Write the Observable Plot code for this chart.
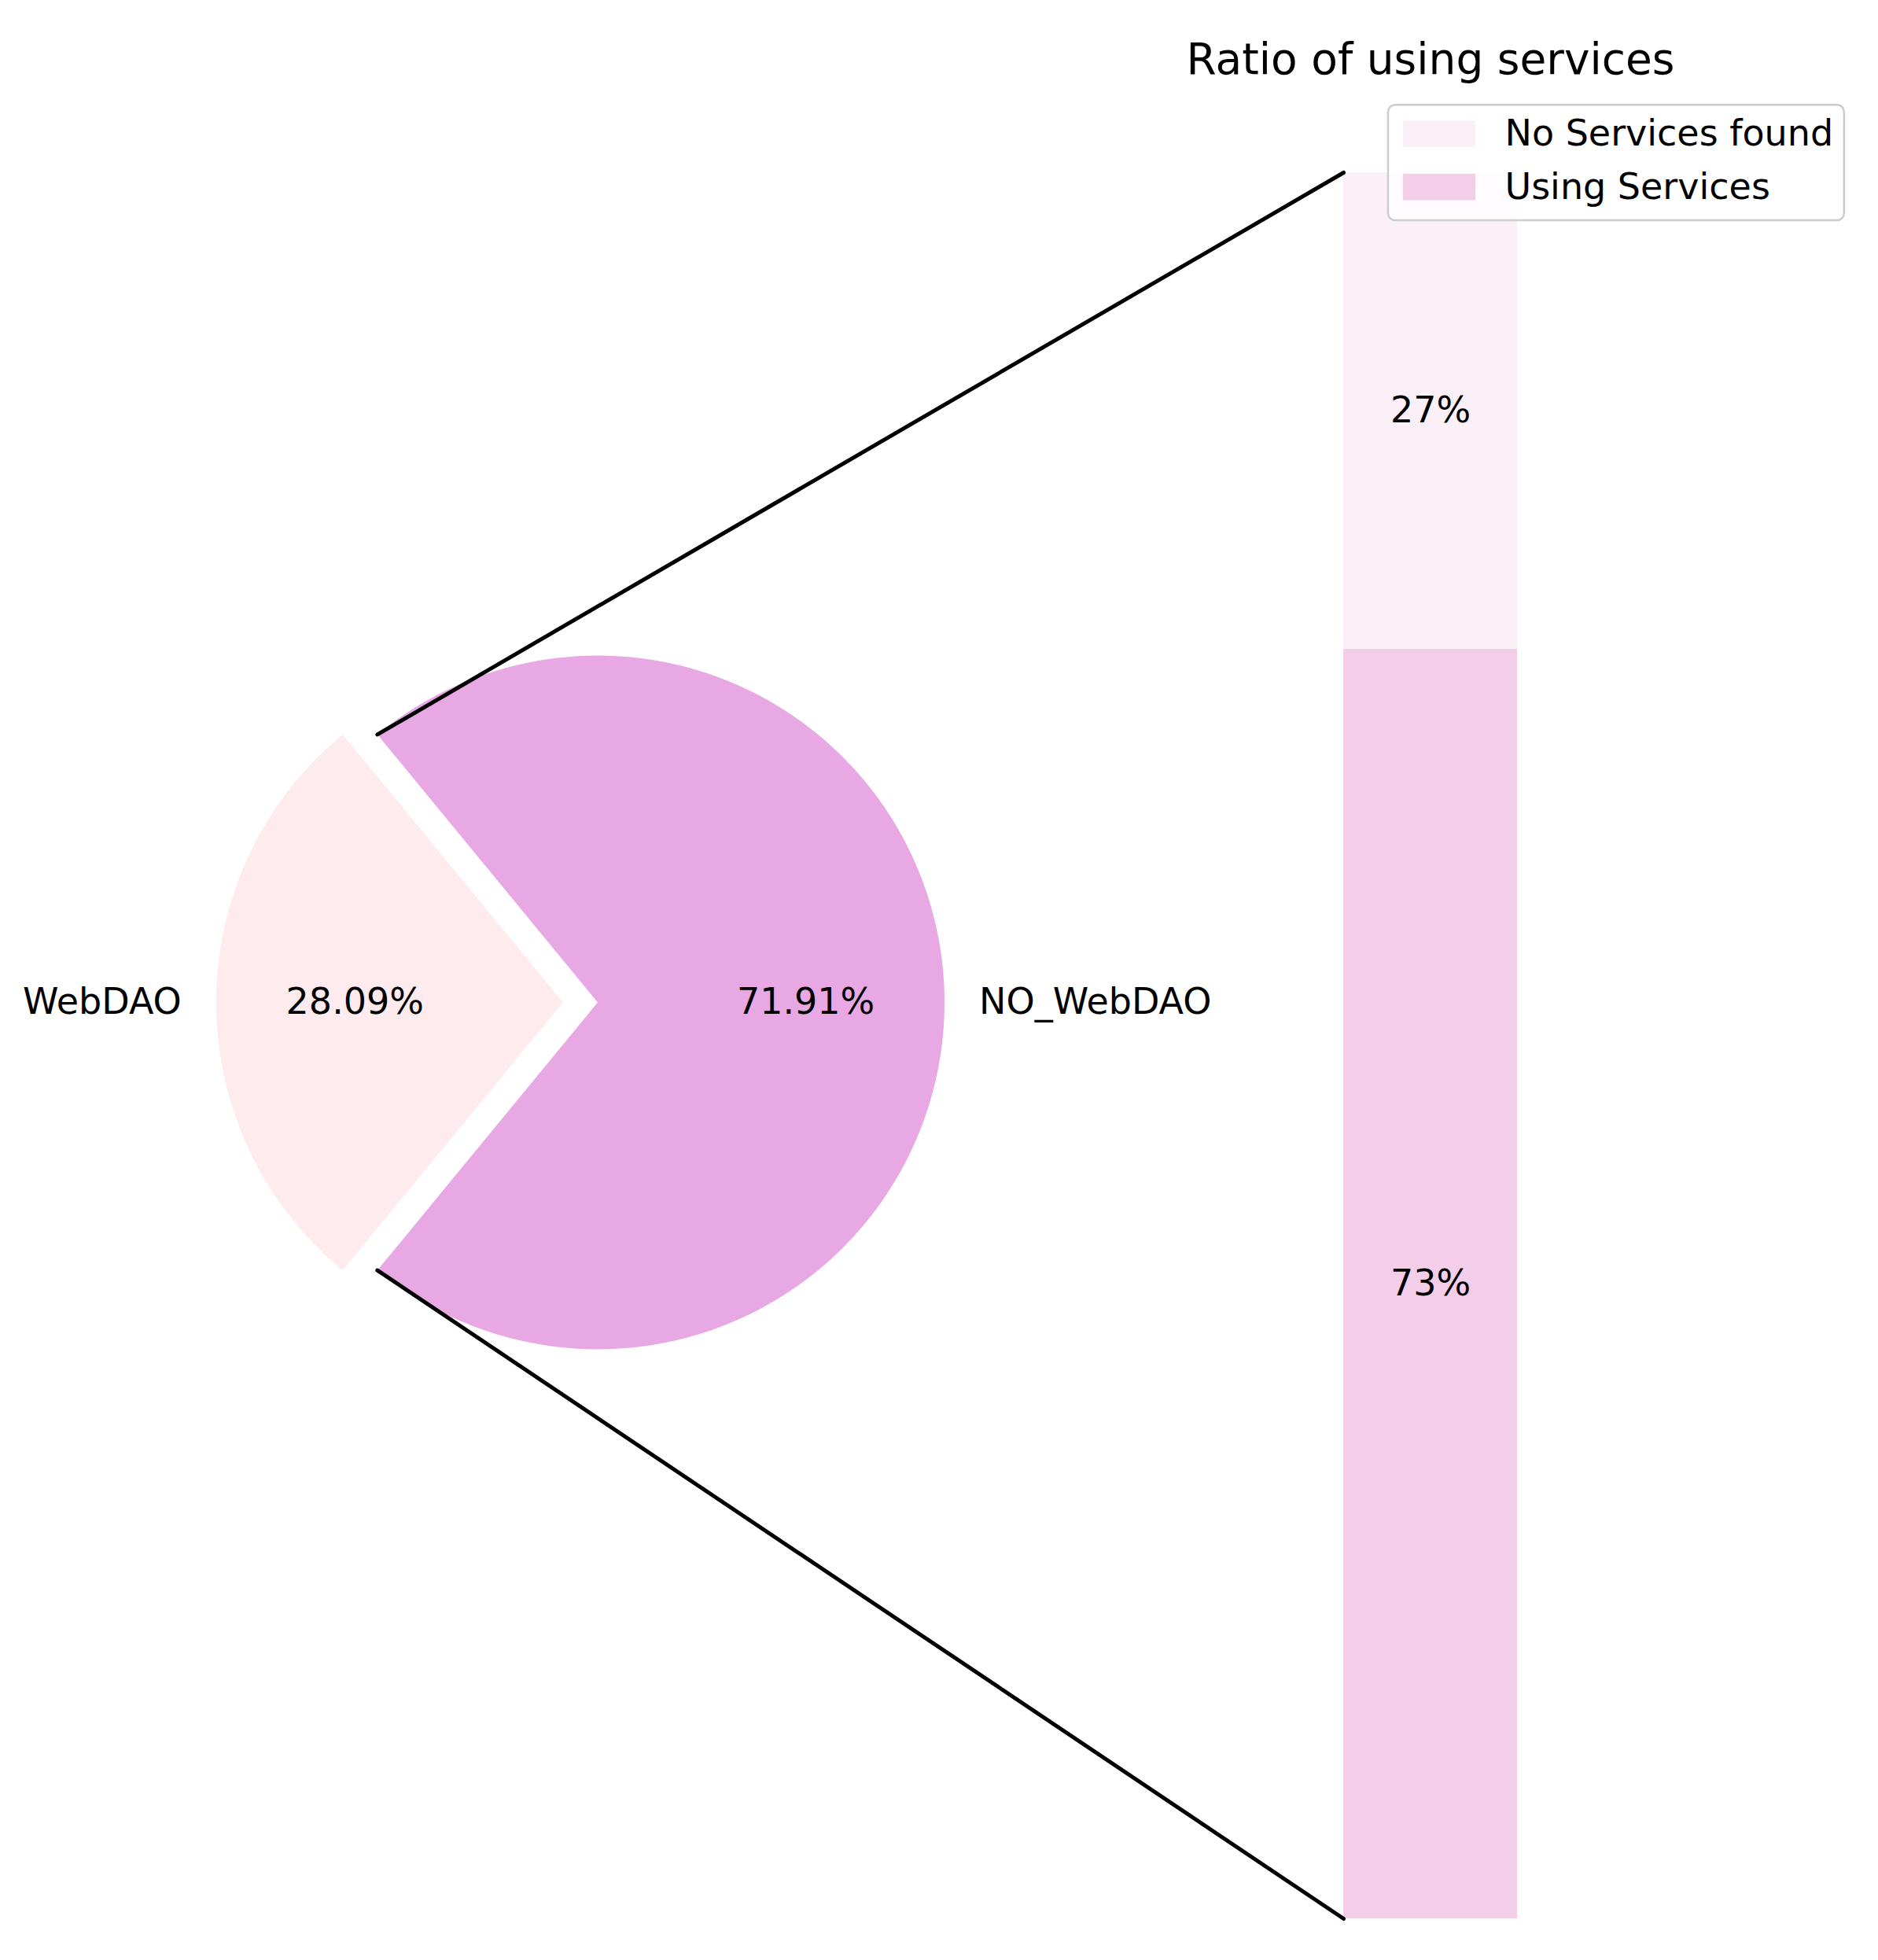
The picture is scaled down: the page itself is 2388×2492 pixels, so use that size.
<!DOCTYPE html>
<html>
<head>
<meta charset="utf-8">
<script src="https://cdn.jsdelivr.net/npm/d3@7"></script>
<script src="https://cdn.jsdelivr.net/npm/@observablehq/plot@0.6"></script>
<style>
  html, body { margin: 0; padding: 0; background: #fff; }
  #chart svg { display: block; font-family: "DejaVu Sans", sans-serif; }
</style>
</head>
<body>
<div id="chart"></div>
<script>
// ---- data ----
const pieLabels = ["WebDAO", "NO_WebDAO"];
const pieValues = [28.09, 71.91];
const pieColors = ["#FDEBED", "#E8A8E4"];
const pieExplode = [0.1, 0];

const barLabels = ["No Services found", "Using Services"];
const barValues = [27.3, 72.7];
const barTexts = ["27%", "73%"];
const barColors = ["#FBF0F8", "#F4CDE8"];

const titleText = "Ratio of using services";

// ---- layout (pie radius = 1 unit) ----
const W = 2388, H = 2492;
const pxPerUnit = 441, cxPx = 759.5, cyPx = 1274;
const xDomain = [-cxPx / pxPerUnit, (W - cxPx) / pxPerUnit];
const yDomain = [(cyPx - H) / pxPerUnit, cyPx / pxPerUnit];

const barX1 = 2.1508, barX2 = 2.6520, barTop = 2.3923, barBottom = -2.6417;
const labelDist = 1.1, pctDist = 0.6;
const fontSize = 46;

// ---- pie wedges ----
const pieTotal = d3.sum(pieValues);
const startDeg = 180 - (pieValues[0] / pieTotal) * 360 / 2;
const rad = d => d * Math.PI / 180;
let cum = 0;
const wedges = pieValues.map((v, i) => {
  const t1 = startDeg + cum / pieTotal * 360;
  cum += v;
  const t2 = startDeg + cum / pieTotal * 360;
  const mid = (t1 + t2) / 2;
  const ox = pieExplode[i] * Math.cos(rad(mid));
  const oy = pieExplode[i] * Math.sin(rad(mid));
  const pts = [{x: ox, y: oy}];
  const n = 240;
  for (let k = 0; k <= n; k++) {
    const t = rad(t1 + (t2 - t1) * k / n);
    pts.push({x: ox + Math.cos(t), y: oy + Math.sin(t)});
  }
  pts.push({x: ox, y: oy});
  return {label: pieLabels[i], value: v, color: pieColors[i], t1, t2, mid, ox, oy, pts};
});

const pieLabelData = wedges.map(w => ({
  text: w.label,
  x: w.ox + labelDist * Math.cos(rad(w.mid)),
  y: w.oy + labelDist * Math.sin(rad(w.mid)),
  left: Math.cos(rad(w.mid)) < 0
}));
const piePctData = wedges.map(w => ({
  text: w.value.toFixed(2) + "%",
  x: w.ox + pctDist * Math.cos(rad(w.mid)),
  y: w.oy + pctDist * Math.sin(rad(w.mid))
}));

// ---- bar segments (stacked from the top) ----
const barTotal = d3.sum(barValues);
const barH = barTop - barBottom;
let bc = 0;
const barData = barValues.map((v, i) => {
  const y2 = barTop - bc / barTotal * barH;
  bc += v;
  const y1 = barTop - bc / barTotal * barH;
  return {cat: barLabels[i], text: barTexts[i], x1: barX1, x2: barX2, y1, y2, ym: (y1 + y2) / 2, xm: (barX1 + barX2) / 2};
});

// ---- connection lines from the big wedge edges to the bar corners ----
const big = wedges[1];
const linkData = [
  {x1: big.ox + Math.cos(rad(big.t2)), y1: big.oy + Math.sin(rad(big.t2)), x2: barX1, y2: barTop},
  {x1: big.ox + Math.cos(rad(big.t1)), y1: big.oy + Math.sin(rad(big.t1)), x2: barX1, y2: barBottom}
];

// ---- legend ----
const legendBox = [{x1: 2.280, x2: 3.595, y1: 2.254, y2: 2.587}];
const legendRowY = [2.503, 2.350];
const legendItems = barLabels.map((c, i) => ({
  cat: c, px1: 2.323, px2: 2.532, py1: legendRowY[i] - 0.038, py2: legendRowY[i] + 0.038,
  tx: 2.6156, ty: legendRowY[i]
}));

const marks = [];
wedges.forEach(w => {
  marks.push(Plot.line(w.pts, {x: "x", y: "y", fill: w.color, stroke: "none", curve: "linear"}));
});
marks.push(Plot.rect(barData, {x1: "x1", x2: "x2", y1: "y1", y2: "y2", fill: "cat"}));
marks.push(Plot.link(linkData, {x1: "x1", y1: "y1", x2: "x2", y2: "y2", stroke: "black", strokeWidth: 5, strokeLinecap: "round"}));
marks.push(Plot.text(pieLabelData.filter(d => d.left), {x: "x", y: "y", text: "text", textAnchor: "end", fontSize, fill: "black", lineAnchor: "middle"}));
marks.push(Plot.text(pieLabelData.filter(d => !d.left), {x: "x", y: "y", text: "text", textAnchor: "start", fontSize, fill: "black", lineAnchor: "middle"}));
marks.push(Plot.text(piePctData, {x: "x", y: "y", text: "text", fontSize, fill: "black", lineAnchor: "middle"}));
marks.push(Plot.text(barData, {x: "xm", y: "ym", text: "text", fontSize, fill: "black", lineAnchor: "middle"}));
marks.push(Plot.rect(legendBox, {x1: "x1", x2: "x2", y1: "y1", y2: "y2", fill: "white", fillOpacity: 0.8, stroke: "#cccccc", strokeWidth: 2.5, rx: 9}));
marks.push(Plot.rect(legendItems, {x1: "px1", x2: "px2", y1: "py1", y2: "py2", fill: "cat"}));
marks.push(Plot.text(legendItems, {x: "tx", y: "ty", text: "cat", textAnchor: "start", fontSize, fill: "black", lineAnchor: "middle"}));
marks.push(Plot.text([{t: titleText, x: (barX1 + barX2) / 2, y: 2.7166}], {x: "x", y: "y", text: "t", fontSize: 55, fill: "black", lineAnchor: "middle"}));

const chart = Plot.plot({
  width: W,
  height: H,
  margin: 0,
  style: {fontFamily: "DejaVu Sans, sans-serif", background: "white"},
  x: {domain: xDomain, axis: null},
  y: {domain: yDomain, axis: null},
  color: {domain: barLabels, range: barColors},
  marks
});
document.getElementById("chart").appendChild(chart);
</script>
</body>
</html>
